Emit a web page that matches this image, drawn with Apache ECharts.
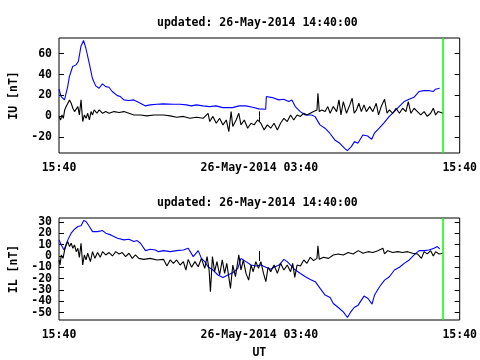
<!DOCTYPE html>
<html>
<head>
<meta charset="utf-8">
<script src="https://cdn.jsdelivr.net/npm/echarts@6/dist/echarts.min.js"></script>
<style>html,body{margin:0;padding:0;background:#fff}#c{width:480px;height:360px}</style>
</head>
<body>
<div id="c"></div>
<script>
// Time in hours after 25-May-2014 15:40 UT
var titleText = 'updated: 26-May-2014 14:40:00';
var xTickHours = [0, 12, 24];
var xTickLabels = ['15:40', '26-May-2014 03:40', '15:40'];
var updatedHour = 23.0;
var iuTicks = [-20, 0, 20, 40, 60];
var ilTicks = [-50, -40, -30, -20, -10, 0, 10, 20, 30];

// IU panel, blue series
var iuBlueT = [0,0.13,0.33,0.42,0.52,0.62,0.82,1.02,1.16,1.31,1.47,1.61,1.81,2.00,2.20,2.40,2.60,2.80,2.99,3.19,3.49,3.68,3.88,4.18,4.47,4.67,4.87,5.16,5.46,5.86,6.25,6.84,7.24,7.63,7.93,8.23,8.62,9.02,9.41,9.81,10.40,10.79,11.19,11.59,11.98,12.38,12.42,12.77,13.16,13.46,13.76,13.95,14.15,14.45,14.75,15.14,15.34,15.63,15.93,16.22,16.52,16.82,17.11,17.27,17.51,17.70,17.90,18.20,18.49,18.73,18.89,19.18,19.48,19.77,20.08,20.37,20.67,20.97,21.26,21.56,21.86,22.15,22.41,22.55,22.80];
var iuBlueV = [26.0,19.0,15.8,14.2,28.5,38.1,47.7,49.3,52.5,66.8,72.6,65.2,50.9,36.5,29.2,26.9,31.1,28.5,27.9,23.8,19.9,19.0,15.8,15.2,15.8,14.2,12.6,10.1,11.0,11.6,12.0,11.6,11.6,11.0,10.1,11.0,10.1,9.4,10.1,8.4,8.4,10.1,10.1,8.8,7.2,6.9,19.0,18.0,15.8,16.4,14.2,15.8,9.4,4.6,1.4,1.4,-0.2,-8.1,-11.3,-16.1,-22.5,-25.7,-30.5,-32.7,-28.9,-24.1,-25.7,-17.7,-18.7,-21.9,-16.1,-11.3,-5.9,-0.2,4.6,9.4,14.2,16.4,18.3,23.8,24.7,24.7,23.8,26.0,26.9];

// IU panel, black series
var iuBlackT = [0,0.10,0.18,0.26,0.34,0.43,0.53,0.63,0.73,0.83,0.93,1.03,1.13,1.22,1.32,1.42,1.52,1.62,1.72,1.82,1.92,2.01,2.11,2.27,2.41,2.61,2.80,3.00,3.30,3.60,3.89,4.19,4.48,4.88,5.27,5.67,6.26,6.66,7.05,7.45,7.84,8.24,8.63,8.93,9.03,9.22,9.42,9.62,9.82,10.02,10.17,10.31,10.41,10.61,10.77,10.90,11.10,11.30,11.50,11.69,11.89,11.99,12.09,12.29,12.48,12.68,12.88,13.08,13.27,13.47,13.67,13.87,14.06,14.26,14.46,14.66,14.85,15.05,15.25,15.45,15.51,15.59,15.74,15.94,16.10,16.24,16.43,16.63,16.77,16.89,17.03,17.22,17.42,17.56,17.68,17.82,17.96,18.11,18.27,18.41,18.61,18.80,19.00,19.14,19.30,19.50,19.65,19.79,19.99,20.19,20.39,20.58,20.78,20.92,21.08,21.27,21.47,21.67,21.87,22.06,22.26,22.42,22.56,22.70,22.81,23.0];
var iuBlackV = [0,-3.4,1.4,-1.8,6.2,9.4,12.6,15.8,12.6,7.8,4.6,3.0,9.4,1.4,15.8,-4.9,1.4,-1.8,3.0,-3.4,4.6,1.4,6.2,3.0,6.2,3.0,4.6,3.0,4.6,3.7,4.6,3.0,1.4,1.4,0.5,1.4,1.4,0.5,-0.8,0,-1.8,-0.8,-1.8,3.0,-4.9,0,-6.5,-1.8,-8.1,-3.4,-14.5,4.6,-9.7,-3.4,3.0,-8.1,-3.4,-11.3,-6.5,-8.1,-3.4,-1.8,-6.5,-12.9,-8.1,-11.3,-6.5,-12.9,-6.5,-1.8,-4.9,1.4,-3.4,1.4,0,3.0,1.4,3.0,4.6,6.2,22.2,4.6,6.2,4.6,9.4,3.0,9.4,4.6,15.8,1.4,14.2,3.0,11.0,17.4,3.0,6.2,12.6,4.6,11.0,4.6,9.4,4.6,12.6,1.4,9.4,16.4,3.0,6.2,3.0,7.8,3.0,7.8,4.6,14.2,3.0,7.8,4.6,1.4,4.6,0,3.0,7.8,1.4,4.6,3.0,3.0];

// IL panel, blue series
var ilBlueT = [0,0.14,0.30,0.40,0.53,0.73,0.93,1.13,1.32,1.48,1.62,1.82,2.01,2.31,2.61,2.80,3.10,3.50,3.89,4.19,4.48,4.68,4.88,5.18,5.47,5.77,5.97,6.26,6.66,7.05,7.45,7.74,8.04,8.34,8.53,8.73,8.93,9.22,9.52,9.82,10.11,10.41,10.71,10.90,11.20,11.50,11.79,12.09,12.39,12.68,12.88,13.18,13.47,13.67,13.87,14.16,14.46,14.76,15.05,15.35,15.64,15.94,16.24,16.43,16.73,17.03,17.28,17.48,17.68,17.92,18.11,18.27,18.51,18.75,18.90,19.20,19.50,19.79,20.09,20.39,20.68,20.98,21.27,21.57,21.87,22.16,22.46,22.66,22.81];
var ilBlueV = [14.2,9.7,5.3,6.8,14.2,20.1,23.6,26.0,26.6,31.3,30.4,26.0,21.5,21.5,22.4,20.1,18.6,15.6,14.2,14.8,12.7,13.6,11.2,4.7,5.9,5.3,3.8,4.7,3.8,4.7,5.3,6.8,-0.6,4.7,-2.1,-5.0,-9.5,-12.4,-16.8,-18.9,-16.8,-14.8,-10.9,-2.1,-5.0,-8.0,-8.9,-8.0,-10.0,-11.8,-10.0,-8.0,-3.0,-5.0,-8.0,-12.4,-15.4,-18.3,-20.7,-22.7,-28.6,-34.5,-36.6,-41.9,-45.5,-49.3,-54.3,-49.3,-45.5,-43.4,-39.0,-35.4,-37.5,-42.5,-34.5,-27.2,-21.3,-18.3,-12.4,-10.0,-6.5,-3.5,0.9,4.7,4.7,5.3,6.8,8.3,6.2];

// IL panel, black series
var ilBlackT = [0,0.06,0.14,0.24,0.34,0.43,0.53,0.63,0.73,0.83,0.93,1.03,1.13,1.22,1.32,1.42,1.52,1.62,1.72,1.88,2.01,2.15,2.31,2.47,2.61,2.80,3.00,3.20,3.40,3.60,3.79,3.99,4.19,4.39,4.58,4.78,5.08,5.47,5.87,6.26,6.46,6.66,6.85,7.05,7.25,7.45,7.60,7.74,7.94,8.14,8.34,8.53,8.73,8.87,8.99,9.07,9.19,9.32,9.46,9.62,9.78,9.92,10.05,10.27,10.41,10.57,10.77,10.90,11.04,11.20,11.36,11.50,11.63,11.79,11.95,12.09,12.25,12.39,12.52,12.68,12.88,13.08,13.27,13.47,13.67,13.87,14.00,14.12,14.26,14.46,14.66,14.85,15.05,15.25,15.45,15.51,15.59,15.84,16.14,16.43,16.73,17.03,17.32,17.62,17.92,18.21,18.51,18.80,19.10,19.40,19.50,19.69,19.99,20.29,20.58,20.88,21.18,21.47,21.71,21.87,22.06,22.26,22.42,22.56,22.76,23.0];
var ilBlackV = [-3.5,-8.0,0.9,-2.1,5.3,9.7,12.7,8.3,11.2,6.8,9.7,3.8,6.8,-1.2,11.2,-8.0,0.9,-3.5,2.4,-5.0,3.8,-2.1,3.0,-1.2,3.8,0.9,3.0,0,3.8,1.8,3.0,-0.6,2.4,-2.1,0.9,-2.1,-3.0,-2.1,-3.5,-3.0,-8.9,-3.5,-6.5,-3.5,-8.0,-5.0,-12.4,-3.0,-10.0,-5.0,-9.5,-2.1,-10.9,-0.6,-12.4,-31.6,-0.6,-13.9,-5.0,-16.8,-3.5,-15.4,-6.5,-28.6,-8.0,-18.3,0.9,-12.4,-3.5,-15.4,-21.3,-8.0,-13.9,-5.0,-10.9,-5.0,-15.4,-22.7,-10.0,-13.9,-8.0,-15.4,-6.5,-12.4,-8.0,-13.9,-6.5,-18.9,-8.0,-8.9,-3.5,-6.5,-1.2,-4.1,-2.1,8.9,-3.0,-1.2,-2.1,0.9,1.8,0.9,3.0,1.8,4.7,2.4,3.8,3.0,4.7,6.8,1.8,4.7,3.0,3.8,3.0,3.8,2.4,1.8,-2.1,3.8,1.8,4.7,0,3.8,1.8,2.4];

function zip(t, v) { return t.map(function (x, i) { return [x, v[i]]; }); }

var FONT = 'DejaVu Sans Mono';
var fs = 11.5;
var txt = {fontFamily: FONT, fontWeight: 'bold', fontSize: fs, color: '#000'};
var grids = [
  {left: 55, width: 405, top: 38, height: 115},
  {left: 55, width: 405, top: 218, height: 102}
];

function xAxes(gi, showUT) {
  return [
    {type: 'value', gridIndex: gi, min: 0, max: 24, position: 'bottom',
     name: showUT ? 'UT' : '', nameLocation: 'middle', nameGap: 27, nameTextStyle: txt,
     axisLine: {show: false}, splitLine: {show: false},
     axisTick: {show: true, inside: true, length: 5, customValues: [12], lineStyle: {color: '#000'}},
     axisLabel: Object.assign({show: true, customValues: xTickHours, margin: 9, hideOverlap: false,
       formatter: function (v) { var i = xTickHours.indexOf(v); return i >= 0 ? xTickLabels[i] : ''; }}, txt)},
    {type: 'value', gridIndex: gi, min: 0, max: 24, position: 'top',
     axisLine: {show: false}, splitLine: {show: false}, axisLabel: {show: false},
     axisTick: {show: true, inside: true, length: 5, customValues: [12], lineStyle: {color: '#000'}}}
  ];
}
// Labels are split across two overlaid left axes (alternating ticks) so none gets dropped for overlap.
function yAxes(gi, min, max, ticks, name) {
  var odd = ticks.filter(function (v, i) { return i % 2 === 0; });
  var even = ticks.filter(function (v, i) { return i % 2 === 1; });
  function leftAxis(vals, withName) {
    return {type: 'value', gridIndex: gi, min: min, max: max, position: 'left', offset: 0,
     name: withName ? name : '', nameLocation: 'middle', nameGap: 39, nameRotate: 90, nameTextStyle: txt,
     axisLine: {show: false}, splitLine: {show: false},
     axisTick: {show: true, inside: true, length: 5, customValues: vals, lineStyle: {color: '#000'}},
     axisLabel: Object.assign({show: true, customValues: vals, margin: 7, hideOverlap: false}, txt)};
  }
  return [
    leftAxis(odd, true),
    leftAxis(even, false),
    {type: 'value', gridIndex: gi, min: min, max: max, position: 'right',
     axisLine: {show: false}, splitLine: {show: false}, axisLabel: {show: false},
     axisTick: {show: true, inside: true, length: 5, customValues: ticks, lineStyle: {color: '#000'}}}
  ];
}

function s(xi, yi, data, color, mark) {
  var o = {type: 'line', showSymbol: false, symbol: 'none', animation: false,
    xAxisIndex: xi, yAxisIndex: yi, data: data, lineStyle: {width: 1.1, color: color}, itemStyle: {color: color}};
  if (mark) {
    o.markLine = {silent: true, symbol: 'none', animation: false, label: {show: false},
      lineStyle: {color: '#00ff00', width: 1.5, type: 'solid'}, data: [{xAxis: updatedHour}]};
  }
  return o;
}

var chart = echarts.init(document.getElementById('c'), null, {renderer: 'canvas'});
chart.setOption({
  backgroundColor: '#fff',
  animation: false,
  title: [
    {text: titleText, left: 152, top: 12, textStyle: txt},
    {text: titleText, left: 152, top: 192, textStyle: txt}
  ],
  grid: grids.map(function (g) { return Object.assign({show: true, borderColor: '#000', borderWidth: 1, backgroundColor: 'transparent'}, g); }),
  xAxis: xAxes(0, false).concat(xAxes(1, true)),
  yAxis: yAxes(0, -35, 75, iuTicks, 'IU [nT]').concat(yAxes(1, -56.5, 33.5, ilTicks, 'IL [nT]')),
  series: [
    s(0, 0, zip(iuBlueT, iuBlueV), '#0000ff', true),
    s(0, 0, zip(iuBlackT, iuBlackV), '#000000', false),
    s(2, 3, zip(ilBlueT, ilBlueV), '#0000ff', true),
    s(2, 3, zip(ilBlackT, ilBlackV), '#000000', false)
  ]
});
</script>
</body>
</html>
